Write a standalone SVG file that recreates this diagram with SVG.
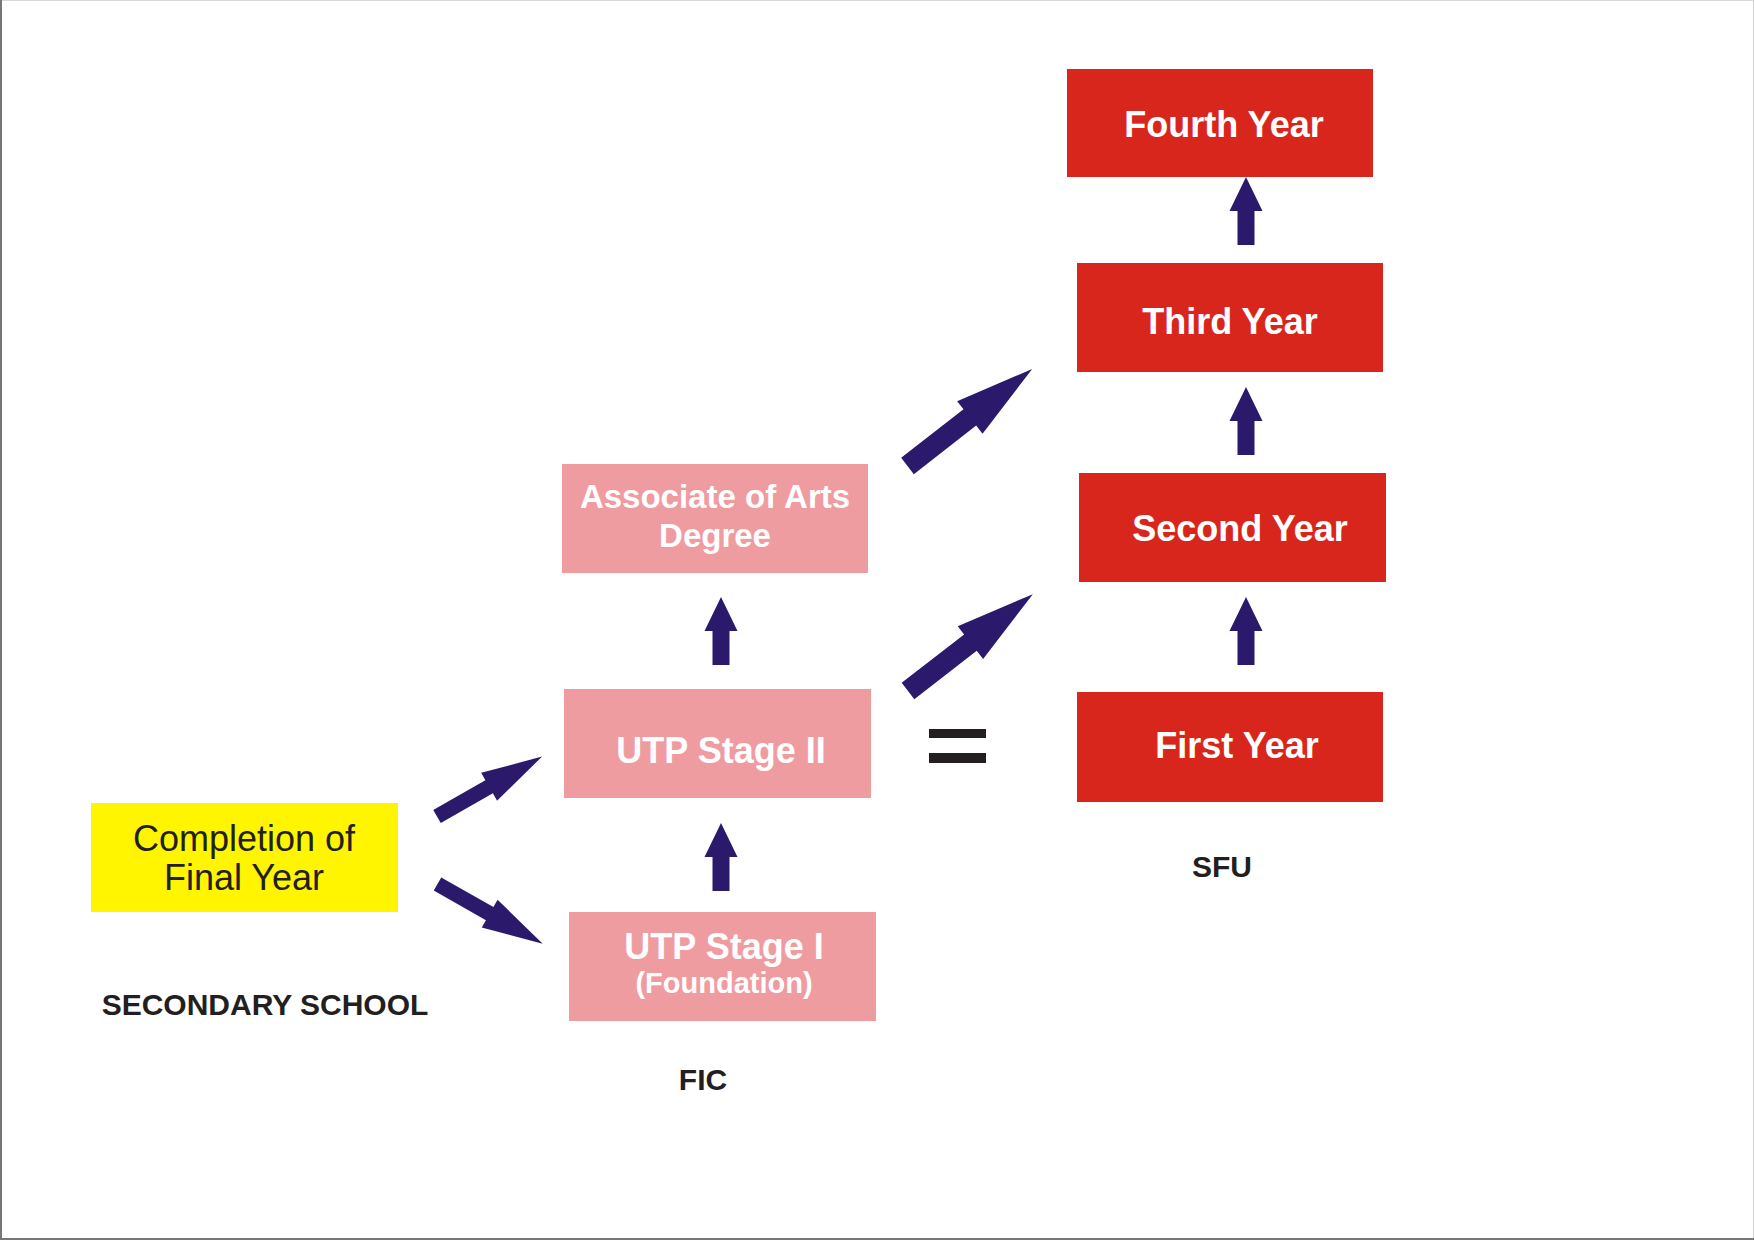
<svg xmlns="http://www.w3.org/2000/svg" xmlns:xlink="http://www.w3.org/1999/xlink" width="1754" height="1240" viewBox="0 0 1754 1240">
<style>
.pink{fill:#ef9ca1}
.red{fill:#d9261d}
.yel{fill:#fff500}
.arr{fill:#2b1a6b}
.wt{fill:#ffffff;font-family:"Liberation Sans",Arial,sans-serif;font-weight:bold;font-size:36px;text-anchor:middle}
.bt{fill:#231f20;font-family:"Liberation Sans",Arial,sans-serif;font-size:36px;text-anchor:middle}
.lbl{fill:#231f20;font-family:"Liberation Sans",Arial,sans-serif;font-weight:bold;font-size:30px;text-anchor:middle}
</style>
<defs>
<path id="up" d="M0,0 L16.5,34 L8.5,34 L8.5,68 L-8.5,68 L-8.5,34 L-16.5,34 Z"/>
<path id="big" d="M0,-10.3 L79,-10.3 L79,-20.7 L158,0 L79,20.7 L79,10.3 L0,10.3 Z"/>
<path id="small" d="M0,-7.6 L60,-7.6 L60,-16 L121,0 L60,16 L60,7.6 L0,7.6 Z"/>
</defs>
<rect x="0" y="0" width="1754" height="1240" fill="#ffffff"/>
<line x1="0" y1="0.5" x2="1754" y2="0.5" stroke="#d8d8d8" stroke-width="1"/>
<line x1="1" y1="0" x2="1" y2="1240" stroke="#777777" stroke-width="2"/>
<line x1="1753.5" y1="0" x2="1753.5" y2="1240" stroke="#d0d0d0" stroke-width="1"/>
<line x1="0" y1="1239" x2="1754" y2="1239" stroke="#777777" stroke-width="2"/>

<g id="node-completion">
<rect class="yel" x="91" y="803" width="307" height="109"/>
<text class="bt" x="244" y="851">Completion of</text>
<text class="bt" x="244" y="890">Final Year</text>
</g>
<g id="label-secondary"><text class="lbl" x="265" y="1015">SECONDARY SCHOOL</text></g>

<g id="node-utp1">
<rect class="pink" x="569" y="912" width="307" height="109"/>
<text class="wt" x="724" y="959">UTP Stage I</text>
<text class="wt" x="724" y="993" style="font-size:29px">(Foundation)</text>
</g>
<g id="label-fic"><text class="lbl" x="703" y="1090">FIC</text></g>

<g id="node-utp2">
<rect class="pink" x="564" y="689" width="307" height="109"/>
<text class="wt" x="721" y="763">UTP Stage II</text>
</g>

<g id="node-aa">
<rect class="pink" x="562" y="464" width="306" height="109"/>
<text class="wt" x="715" y="508" style="font-size:33px">Associate of Arts</text>
<text class="wt" x="715" y="547" style="font-size:33px">Degree</text>
</g>

<g id="equals">
<rect fill="#231f20" x="929" y="729" width="57" height="9"/>
<rect fill="#231f20" x="929" y="753" width="57" height="10"/>
</g>

<g id="node-fourth">
<rect class="red" x="1067" y="69" width="306" height="108"/>
<text class="wt" x="1224" y="137">Fourth Year</text>
</g>
<g id="node-third">
<rect class="red" x="1077" y="263" width="306" height="109"/>
<text class="wt" x="1230" y="334">Third Year</text>
</g>
<g id="node-second">
<rect class="red" x="1079" y="473" width="307" height="109"/>
<text class="wt" x="1240" y="541">Second Year</text>
</g>
<g id="node-first">
<rect class="red" x="1077" y="692" width="306" height="110"/>
<text class="wt" x="1237" y="758">First Year</text>
</g>
<g id="label-sfu"><text class="lbl" x="1222" y="877">SFU</text></g>

<g id="connectors" class="arr">
<use xlink:href="#up" transform="translate(1246,177)"/>
<use xlink:href="#up" transform="translate(1246,387)"/>
<use xlink:href="#up" transform="translate(1246,597)"/>
<use xlink:href="#up" transform="translate(721,597)"/>
<use xlink:href="#up" transform="translate(721,823)"/>
<use xlink:href="#big" transform="translate(907.5,466) rotate(-37.9)"/>
<use xlink:href="#big" transform="translate(908,691) rotate(-37.8)"/>
<use xlink:href="#small" transform="translate(437,816.5) rotate(-29.7)"/>
<use xlink:href="#small" transform="translate(437.5,884) rotate(29.6)"/>
</g>
</svg>
